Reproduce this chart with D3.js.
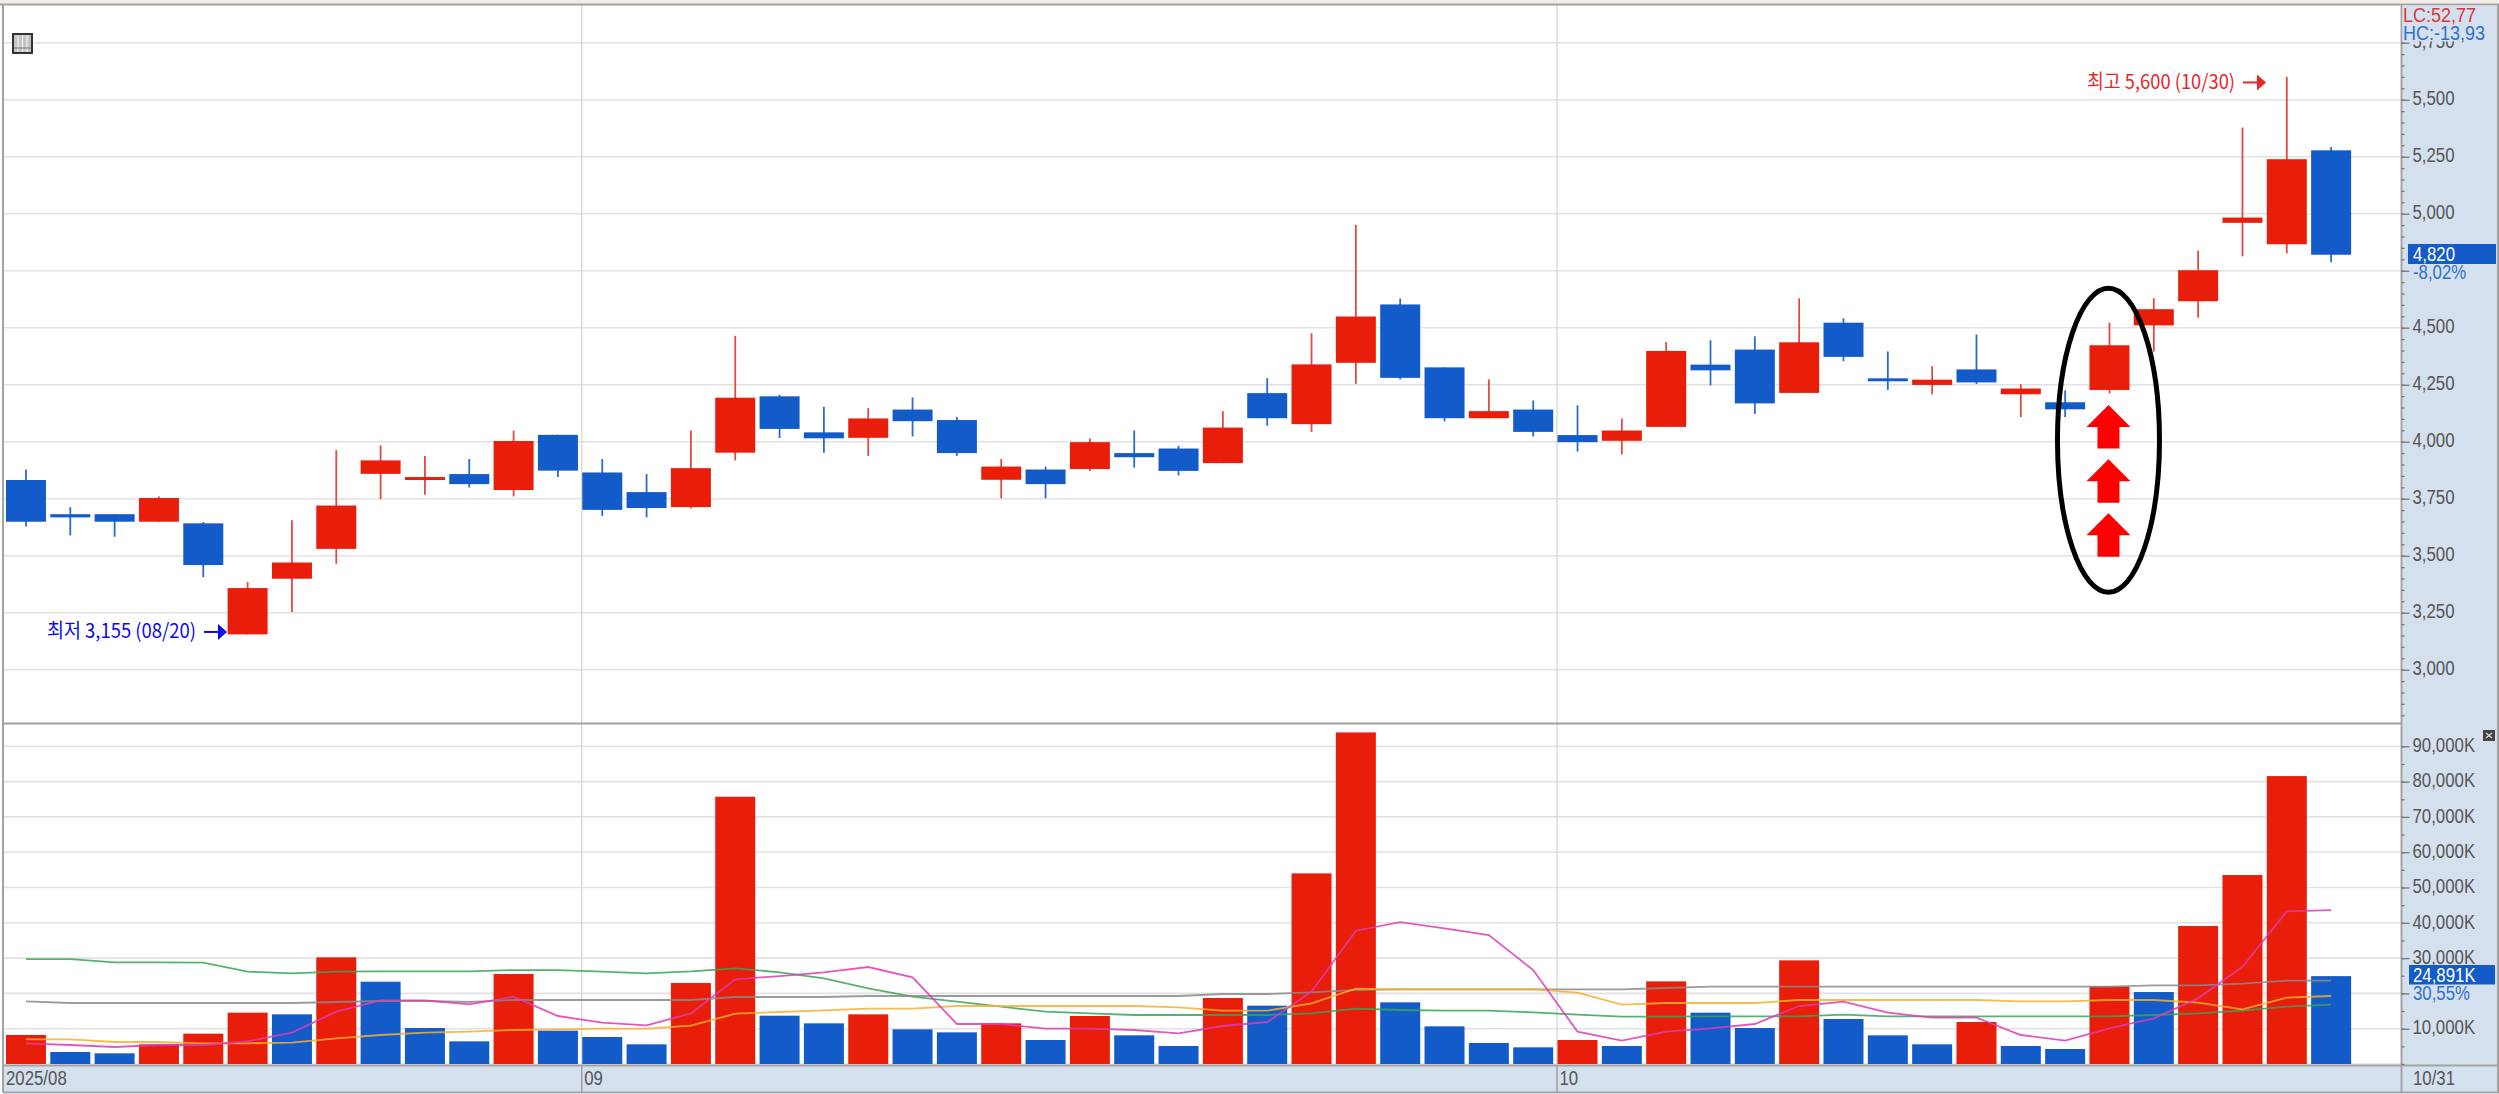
<!DOCTYPE html>
<html>
<head>
<meta charset="utf-8">
<script src="https://cdn.jsdelivr.net/npm/d3@7"></script>
<style>
  html, body { margin: 0; padding: 0; background: #fff; overflow: hidden; }
  svg { display: block; }
  text { font-family: "Liberation Sans", sans-serif; }
  .ann { font-family: "Noto Sans CJK KR", sans-serif; }
</style>
</head>
<body>
<svg id="chart" width="2499" height="1094"></svg>
<script>
// trading days shown, one per candle
const dates = [
  "08/12","08/13","08/14","08/18","08/19","08/20","08/21","08/22","08/25","08/26","08/27","08/28","08/29",
  "09/01","09/02","09/03","09/04","09/05","09/08","09/09","09/10","09/11","09/12","09/15","09/16","09/17",
  "09/18","09/19","09/22","09/23","09/24","09/25","09/26","09/29","09/30",
  "10/01","10/02","10/10","10/13","10/14","10/15","10/16","10/17","10/20","10/21","10/22","10/23","10/24",
  "10/27","10/28","10/29","10/30","10/31",
];

// prices
const opens = [
  3832,3682,3682,3649,3642,3155,3399,3530,3859,3832,3858,3788,4030,
  3865,3779,3713,3952,4199,4041,4017,4141,4095,3833,3878,3880,3950,
  3970,3906,4213,4077,4346,4602,4326,4103,4141,
  4029,4004,4065,4338,4404,4214,4522,4278,4249,4317,4208,4173,4227,
  4510,4616,4960,4866,5278,
];
const highs = [
  3878,3713,3682,3760,3647,3384,3655,3963,3984,3937,3924,4049,4030,
  3924,3858,4049,4464,4206,4153,4147,4194,4108,3924,3891,4014,4049,
  3982,4134,4279,4476,4951,4628,4326,4273,4181,
  4160,4102,4437,4445,4462,4629,4541,4396,4331,4470,4252,4225,4522,
  4629,4838,5378,5600,5293,
];
const lows = [
  3628,3589,3583,3649,3406,3155,3253,3465,3748,3767,3799,3760,3845,
  3675,3668,3707,3918,4016,3951,3938,4023,3938,3752,3752,3871,3886,
  3852,3906,4070,4043,4254,4273,4089,4103,4023,
  3957,3944,4065,4247,4122,4214,4353,4227,4208,4253,4108,4108,4212,
  4395,4544,4813,4826,4787,
];
const closes = [
  3649,3668,3649,3753,3459,3358,3470,3720,3918,3845,3814,4003,3873,
  3701,3709,3884,4193,4056,4015,4102,4090,3950,3891,3814,3998,3932,
  3872,4062,4103,4339,4549,4280,4103,4134,4043,
  3998,4049,4398,4313,4168,4436,4372,4265,4272,4260,4233,4142,4423,
  4581,4752,4983,5239,4820,
];

// volume in thousands of shares
const volumes = [
  8213,3398,3021,5570,8590,14538,14066,30208,23317,10195,6419,25488,9440,
  7646,5570,22939,75709,13688,11517,14066,9818,8968,11517,6797,13594,8118,
  5098,18691,16520,53997,93928,17464,10667,5947,4720,
  6797,5098,23411,14538,10195,29358,12744,8118,5570,11894,5098,4248,21995,
  20390,39082,53525,81562,24891,
];

// volume moving averages
const maPink = [
  5853,5381,4814,5381,5381,6419,8874,14821,18030,18030,16898,19069,13594,
  11706,10950,14349,23978,24922,25960,27470,24544,11328,11328,10006,10006,9629,
  8685,10762,11894,20485,37760,40214,38421,36533,26621,
  9157,6608,9157,10101,11328,16426,17653,14538,13122,13122,8213,6608,10101,
  12933,18597,27565,43235,43613,
];
const maOrange = [
  6986,6986,6230,6230,5853,5853,6042,7269,8213,8874,9157,9629,9818,
  10006,10006,10856,14254,14726,15198,15670,15670,16426,16426,16426,16426,16426,
  16048,15104,15104,17181,21334,21146,21146,21146,21146,
  20202,16803,17275,17275,17275,18125,18125,18125,18125,18125,17747,17747,18125,
  18125,17370,15482,18786,19258,
];
const maGray = [
  17747,17275,17275,17275,17275,17275,17275,17558,17842,17842,17558,18125,18125,
  18125,18125,18125,18974,18974,18974,19258,19258,19258,19258,19258,19258,19258,
  19258,19824,19824,20296,20957,21146,21146,21146,21146,
  21146,21146,21523,21901,21901,21901,21901,21901,21901,21901,21901,21901,21901,
  22278,22278,22750,23600,23600,
];
const maGreen = [
  29736,29736,28792,28792,28698,26149,25677,26149,26243,26243,26243,26621,26621,
  26149,25677,26243,27093,25960,24261,21429,19069,17653,16237,14821,14349,13877,
  13877,13877,13877,14349,15670,15293,15104,15104,14632,
  13971,13405,13405,13499,13499,13499,13971,13499,13499,13499,13499,13499,13499,
  13877,14349,15104,16237,16803,
];

// axis ticks
const priceTicks = [3000,3250,3500,3750,4000,4250,4500,4750,5000,5250,5500,5750];
const priceMinorTicks = d3.range(2800, 5800, 50);
const priceLabelsHidden = [4750];
const volumeTicks = [10000,20000,30000,40000,50000,60000,70000,80000,90000];
const volumeMinorTicks = d3.range(0, 95000, 5000);
const volumeLabelsHidden = [20000];
const monthStarts = [
  { date: "09/01", label: "09" },
  { date: "10/01", label: "10" },
];

// annotation arrows under the circled candle, tip price
const arrowTips = [4161, 3923, 3686];

// layout
const width = 2499;
const height = 1094;
const plotLeft = 3.8;
const plotRight = 2401.5;
const pricePanel = { top: 4, bottom: 723.5 };
const volPanel = { top: 723.5, bottom: 1065.5 };
const axisStripBottom = 1092.5;

const red = "#e81d0a";
const blue = "#135bc8";
const redWick = "#e04a40";
const blueWick = "#2a6ccc";
const panelBg = "#d5e0ef";
const gridColor = "#e2e2e2";
const tickColor = "#777";
const labelColor = "#555";

const svg = d3.select("#chart");

// the source font is tall and narrow, so squeeze text sideways
function squeeze(sel, factor) {
  sel.each(function () {
    const len = this.getComputedTextLength();
    if (len > 0) {
      d3.select(this)
        .attr("textLength", len * factor)
        .attr("lengthAdjust", "spacingAndGlyphs");
    }
  });
}

// scales
const x = d3
  .scaleBand()
  .domain(dates)
  .range([plotLeft, plotLeft + 44.33 * dates.length])
  .paddingInner(0.0977)
  .paddingOuter(0.0488);
const xc = (d) => x(d) + x.bandwidth() / 2;

const yPrice = d3.scaleLinear().domain([3000, 5500]).range([669.7, 99.7]);
const yVol = d3.scaleLinear().domain([0, 90000]).range([1064, 746.3]);

// backgrounds
svg.append("rect").attr("width", width).attr("height", height).attr("fill", "#fff");
svg.append("rect").attr("width", width).attr("height", 3.5).attr("fill", "#f2eee7");
svg
  .append("rect")
  .attr("x", plotRight)
  .attr("y", pricePanel.top)
  .attr("width", width - plotRight - 1.5)
  .attr("height", axisStripBottom - pricePanel.top)
  .attr("fill", panelBg);
svg
  .append("rect")
  .attr("x", plotLeft)
  .attr("y", volPanel.bottom)
  .attr("width", plotRight - plotLeft)
  .attr("height", axisStripBottom - volPanel.bottom)
  .attr("fill", panelBg);

// grid
const gridG = svg.append("g").attr("stroke", gridColor).attr("stroke-width", 1.6);
gridG
  .selectAll("line.p")
  .data(priceTicks)
  .join("line")
  .attr("class", "p")
  .attr("x1", plotLeft)
  .attr("x2", plotRight)
  .attr("y1", (d) => yPrice(d))
  .attr("y2", (d) => yPrice(d));
gridG
  .selectAll("line.v")
  .data([0].concat(volumeTicks))
  .join("line")
  .attr("class", "v")
  .attr("x1", plotLeft)
  .attr("x2", plotRight)
  .attr("y1", (d) => yVol(d))
  .attr("y2", (d) => yVol(d));

// month lines
svg
  .append("g")
  .selectAll("line")
  .data(monthStarts)
  .join("line")
  .attr("x1", (d) => x(d.date) - 0.5)
  .attr("x2", (d) => x(d.date) - 0.5)
  .attr("y1", pricePanel.top)
  .attr("y2", volPanel.bottom)
  .attr("stroke", "#dadada")
  .attr("stroke-width", 1.4);
svg
  .append("g")
  .selectAll("line")
  .data(monthStarts)
  .join("line")
  .attr("x1", (d) => x(d.date) - 0.5)
  .attr("x2", (d) => x(d.date) - 0.5)
  .attr("y1", volPanel.bottom)
  .attr("y2", axisStripBottom)
  .attr("stroke", "#999")
  .attr("stroke-width", 1.4);

// volume bars, red when volume is up on the day before
svg
  .append("g")
  .selectAll("rect")
  .data(dates)
  .join("rect")
  .attr("x", (d) => x(d))
  .attr("width", x.bandwidth())
  .attr("y", (d, i) => yVol(volumes[i]))
  .attr("height", (d, i) => yVol(0) - yVol(volumes[i]))
  .attr("fill", (d, i) => (i === 0 || volumes[i] >= volumes[i - 1] ? red : blue));

// volume moving averages
const maLine = d3
  .line()
  .x((d, i) => xc(dates[i]))
  .y((d) => yVol(d));

[
  [maGreen, "#38a558"],
  [maGray, "#8a8a8a"],
  [maOrange, "#f6b02c"],
  [maPink, "#dc3cb4"],
].forEach(([values, color]) => {
  svg
    .append("path")
    .attr("d", maLine(values))
    .attr("fill", "none")
    .attr("stroke", color)
    .attr("stroke-width", 1.8)
    .attr("stroke-opacity", 0.85);
});

// candles
const candles = svg.append("g");
candles
  .selectAll("line")
  .data(dates)
  .join("line")
  .attr("x1", (d) => xc(d))
  .attr("x2", (d) => xc(d))
  .attr("y1", (d, i) => yPrice(highs[i]))
  .attr("y2", (d, i) => yPrice(lows[i]))
  .attr("stroke", (d, i) => (closes[i] >= opens[i] ? redWick : blueWick))
  .attr("stroke-width", 1.8);
candles
  .selectAll("rect")
  .data(dates)
  .join("rect")
  .attr("x", (d) => x(d))
  .attr("width", x.bandwidth())
  .attr("y", (d, i) => yPrice(Math.max(opens[i], closes[i])))
  .attr("height", (d, i) => Math.max(1, Math.abs(yPrice(opens[i]) - yPrice(closes[i]))))
  .attr("fill", (d, i) => (closes[i] >= opens[i] ? red : blue));

// hand-drawn oval and arrows round the 10/24 candle
const markDate = "10/24";
svg
  .append("ellipse")
  .attr("cx", xc(markDate) - 1)
  .attr("cy", yPrice(4006))
  .attr("rx", 51)
  .attr("ry", 152)
  .attr("fill", "none")
  .attr("stroke", "#000")
  .attr("stroke-width", 5);

const arrowPath = (cx, tip) =>
  "M" + cx + "," + tip +
  "L" + (cx + 22) + "," + (tip + 22) +
  "H" + (cx + 11) +
  "V" + (tip + 43.5) +
  "H" + (cx - 11) +
  "V" + (tip + 22) +
  "H" + (cx - 22) + "Z";

svg
  .append("g")
  .selectAll("path")
  .data(arrowTips)
  .join("path")
  .attr("d", (d) => arrowPath(xc(markDate) - 1, yPrice(d)))
  .attr("fill", "#ff0000");

// low / high notes
function note(text, price, xText, textWidth, xArrow, color) {
  svg
    .append("text")
    .attr("class", "ann")
    .attr("x", xText)
    .attr("y", yPrice(price))
    .attr("dy", "0.36em")
    .attr("font-size", 20)
    .attr("textLength", textWidth)
    .attr("lengthAdjust", "spacingAndGlyphs")
    .attr("fill", color)
    .text(text);
  svg
    .append("line")
    .attr("x1", xArrow)
    .attr("x2", xArrow + 14)
    .attr("y1", yPrice(price) + 1)
    .attr("y2", yPrice(price) + 1)
    .attr("stroke", color)
    .attr("stroke-width", 2);
  svg
    .append("path")
    .attr("d", "M" + (xArrow + 14) + "," + (yPrice(price) - 7) + "l9,8l-9,8Z")
    .attr("fill", color);
}
note("최저 3,155 (08/20)", 3170, 47, 149, 204, "#0a0aee");
note("최고 5,600 (10/30)", 5580, 2087, 148, 2243, "#e8262a");

// axis strip and panel borders
const borders = svg.append("g").attr("stroke", "#a3a3a3").attr("stroke-width", 2).attr("fill", "none");
borders.append("line").attr("x1", 0).attr("x2", width).attr("y1", 4.5).attr("y2", 4.5);
borders.append("line").attr("x1", 3).attr("x2", 3).attr("y1", 4).attr("y2", axisStripBottom);
borders.append("line").attr("x1", 3).attr("x2", plotRight).attr("y1", pricePanel.bottom).attr("y2", pricePanel.bottom);
borders.append("line").attr("x1", 3).attr("x2", width).attr("y1", volPanel.bottom).attr("y2", volPanel.bottom);
borders.append("line").attr("x1", 3).attr("x2", width).attr("y1", axisStripBottom).attr("y2", axisStripBottom);
borders.append("line").attr("x1", plotRight).attr("x2", plotRight).attr("y1", 4).attr("y2", axisStripBottom);
borders.append("line").attr("x1", width - 1).attr("x2", width - 1).attr("y1", 4).attr("y2", axisStripBottom);

// right axes
function styleAxis(g) {
  g.select(".domain").remove();
  g.selectAll("line").attr("stroke", tickColor).attr("stroke-width", 1.3);
  g.selectAll("text").attr("font-size", 20).attr("dy", "0.26em").attr("fill", labelColor).call(squeeze, 0.84);
}

svg
  .append("g")
  .attr("transform", "translate(" + plotRight + ",0)")
  .call(d3.axisRight(yPrice).tickValues(priceMinorTicks).tickSize(3).tickFormat(""))
  .call(styleAxis);
svg
  .append("g")
  .attr("transform", "translate(" + plotRight + ",0)")
  .call(
    d3
      .axisRight(yPrice)
      .tickValues(priceTicks)
      .tickSize(8)
      .tickPadding(3)
      .tickFormat((d) => (priceLabelsHidden.includes(d) ? "" : d3.format(",")(d)))
  )
  .call(styleAxis);
svg
  .append("g")
  .attr("transform", "translate(" + plotRight + ",0)")
  .call(d3.axisRight(yVol).tickValues(volumeMinorTicks).tickSize(3).tickFormat(""))
  .call(styleAxis);
svg
  .append("g")
  .attr("transform", "translate(" + plotRight + ",0)")
  .call(
    d3
      .axisRight(yVol)
      .tickValues(volumeTicks)
      .tickSize(8)
      .tickPadding(3)
      .tickFormat((d) => (volumeLabelsHidden.includes(d) ? "" : d3.format(",")(d) + "K"))
  )
  .call(styleAxis);

// LC / HC box covers the top of the 5,750 label
svg
  .append("rect")
  .attr("x", plotRight + 1)
  .attr("y", 5.5)
  .attr("width", width - plotRight - 3)
  .attr("height", 36)
  .attr("fill", panelBg);

function sideText(text, xPos, yPos, color, factor = 0.84) {
  svg
    .append("text")
    .attr("x", xPos)
    .attr("y", yPos)
    .attr("dy", "0.36em")
    .attr("font-size", 20)
    .attr("fill", color)
    .text(text)
    .call(squeeze, factor);
}
sideText("LC:52,77", 2403, 15, "#d83a3a", 0.9);
sideText("HC:-13,93", 2403, 33, "#2f6fd0", 0.9);

// last price tag
svg.append("rect").attr("x", 2408).attr("y", 244).attr("width", 88).attr("height", 20).attr("fill", blue);
sideText("4,820", 2413, 254, "#fff");
sideText("-8,02%", 2413, 272, "#2f6fd0");

// last volume tag
svg.append("rect").attr("x", 2409).attr("y", 965).attr("width", 86).attr("height", 19.5).attr("fill", blue);
sideText("24,891K", 2413, 975, "#fff");
sideText("30,55%", 2413, 993, "#2f6fd0");

// date labels
sideText("2025/08", 6, 1078, labelColor);
monthStarts.forEach((d) => sideText(d.label, x(d.date) + 2, 1078, labelColor));
sideText("10/31", 2413, 1078, labelColor);

// small icons
const icon = svg.append("g");
icon.append("rect").attr("x", 13).attr("y", 34).attr("width", 19).attr("height", 19).attr("fill", "#c4c4c4").attr("stroke", "#333").attr("stroke-width", 2);
[18, 22.5, 27].forEach((px) =>
  icon.append("line").attr("x1", px).attr("x2", px).attr("y1", 35).attr("y2", 52).attr("stroke", "#f2f2f2").attr("stroke-width", 1.2)
);
icon.append("line").attr("x1", 14).attr("x2", 31).attr("y1", 48).attr("y2", 48).attr("stroke", "#777").attr("stroke-width", 1);

const closeIcon = svg.append("g");
closeIcon.append("rect").attr("x", 2483).attr("y", 730).attr("width", 12).attr("height", 11).attr("fill", "#444");
closeIcon.append("path").attr("d", "M2486,733l6,5M2492,733l-6,5").attr("stroke", "#ddd").attr("stroke-width", 1.2);
</script>
</body>
</html>
